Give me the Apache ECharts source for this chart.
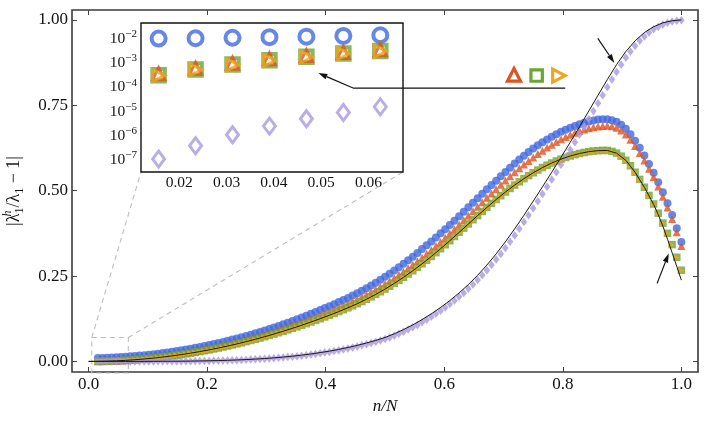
<!DOCTYPE html>
<html>
<head>
<meta charset="utf-8">
<script src="https://cdn.jsdelivr.net/npm/echarts@6.0.0/dist/echarts.min.js"></script>
<style>
html, body { margin: 0; padding: 0; background: #fff; }
#chart { width: 706px; height: 423px; }
</style>
</head>
<body>
<div id="chart"></div>
<script>
// n/N with N = 128, markers for n = 2..128
var N = 128;
var markN = [];
for (var n = 2; n <= N; n++) markN.push(n);

var blueVals = [
  .0100, .0103, .0108, .0114, .0120, .0128, .0137,
  .0148, .0158, .0170, .0183, .0197, .0211, .0227, .0243,
  .0263, .0282, .0304, .0325, .0349, .0372, .0398, .0423,
  .0451, .0479, .0509, .0540, .0572, .0604, .0638, .0673,
  .0709, .0747, .0784, .0824, .0864, .0906, .0947, .0991,
  .1037, .1086, .1134, .1184, .1235, .1287, .1340, .1393,
  .1448, .1504, .1561, .1618, .1677, .1737, .1798, .1860,
  .1927, .1997, .2069, .2145, .2224, .2306, .2390, .2478,
  .2569, .2663, .2759, .2859, .2962, .3068, .3176, .3288,
  .3399, .3513, .3630, .3750, .3872, .3996, .4122, .4249,
  .4382, .4515, .4648, .4780, .4911, .5040, .5167, .5291,
  .5422, .5550, .5674, .5794, .5910, .6022, .6130, .6234,
  .6328, .6417, .6501, .6580, .6654, .6723, .6786, .6844,
  .6896, .6944, .6987, .7025, .7056, .7082, .7090, .7091,
  .7065, .7017, .6928, .6810, .6653, .6465, .6258, .6030,
  .5783, .5525, .5248, .4950, .4633, .4285, .3898, .3500
];
var redVals = [
  .00036, .0006, .00097, .00147, .0020, .0027, .0035,
  .0046, .0057, .0069, .0082, .0096, .0110, .0127, .0143,
  .0162, .0181, .0202, .0223, .0245, .0268, .0293, .0318,
  .0346, .0373, .0403, .0432, .0464, .0495, .0529, .0563,
  .0598, .0634, .0671, .0709, .0748, .0788, .0829, .0871,
  .0914, .0958, .1003, .1049, .1097, .1144, .1194, .1243,
  .1296, .1349, .1403, .1458, .1515, .1572, .1630, .1690,
  .1752, .1817, .1884, .1955, .2029, .2106, .2185, .2268,
  .2354, .2443, .2534, .2629, .2727, .2828, .2931, .3038,
  .3149, .3263, .3380, .3500, .3622, .3746, .3872, .3999,
  .4132, .4265, .4398, .4530, .4661, .4790, .4917, .5041,
  .5171, .5298, .5420, .5539, .5654, .5765, .5871, .5974,
  .6075, .6170, .6261, .6347, .6427, .6503, .6572, .6636,
  .6695, .6749, .6791, .6827, .6858, .6882, .6896, .6903,
  .6883, .6840, .6758, .6645, .6493, .6310, .6105, .5880,
  .5645, .5400, .5120, .4820, .4510, .4170, .3780, .3380
];
var greenVals = [
  .00031, .00053, .00085, .00129, .00177, .00242, .0031,
  .0041, .0050, .0061, .0072, .0085, .0098, .0113, .0128,
  .0145, .0162, .0181, .0200, .0221, .0242, .0265, .0288,
  .0313, .0338, .0365, .0392, .0421, .0450, .0481, .0513,
  .0545, .0579, .0613, .0649, .0685, .0723, .0761, .0801,
  .0841, .0883, .0925, .0969, .1014, .1059, .1106, .1153,
  .1202, .1251, .1302, .1353, .1406, .1459, .1514, .1570,
  .1628, .1689, .1753, .1820, .1890, .1963, .2039, .2118,
  .2200, .2285, .2373, .2464, .2558, .2655, .2755, .2858,
  .2964, .3073, .3185, .3300, .3417, .3536, .3657, .3779,
  .3902, .4025, .4148, .4270, .4391, .4510, .4627, .4741,
  .4852, .4960, .5064, .5164, .5260, .5352, .5440, .5524,
  .5603, .5677, .5746, .5810, .5869, .5923, .5972, .6016,
  .6055, .6089, .6118, .6142, .6160, .6172, .6178, .6178,
  .615, .610, .601, .589, .573, .554, .533, .510,
  .486, .461, .434, .405, .375, .342, .305, .267
];
var yellowVals = [
  .00030, .00052, .00083, .00127, .00175, .00240, .0030,
  .0031, .0040, .0051, .0062, .0075, .0088, .0103, .0118,
  .0135, .0152, .0171, .0190, .0211, .0232, .0255, .0278,
  .0293, .0318, .0345, .0372, .0401, .0430, .0461, .0493,
  .0525, .0559, .0593, .0629, .0665, .0703, .0741, .0781,
  .0821, .0863, .0905, .0949, .0994, .1039, .1086, .1133,
  .1182, .1231, .1282, .1333, .1386, .1439, .1494, .1550,
  .1608, .1669, .1733, .1800, .1870, .1943, .2019, .2098,
  .2180, .2265, .2353, .2444, .2538, .2635, .2735, .2838,
  .2944, .3053, .3165, .3280, .3397, .3516, .3637, .3759,
  .3882, .4005, .4128, .4250, .4371, .4490, .4607, .4721,
  .4832, .4940, .5044, .5144, .5240, .5332, .5420, .5504,
  .5583, .5657, .5726, .5790, .5849, .5903, .5952, .5996,
  .6035, .6069, .6098, .6122, .6140, .6152, .6158, .6158,
  .614, .609, .600, .588, .572, .553, .532, .509,
  .485, .460, .433, .404, .374, .341, .304, .266
];
var purpleVals = [
  1.1e-7, 3.9e-7, 1.1e-6, 2.5e-6, 5.0e-6, 9.1e-6, 1.55e-5,
  2.0e-5, 2.49e-5, 3.8e-5, 5.6e-5, 7.95e-5, 1.1e-4, 1.49e-4, 1.97e-4,
  2.55e-4, 3.26e-4, 4.11e-4, 5.1e-4, 6.3e-4, 7.7e-4, 9.3e-4, .00111,
  .00132, .00156, .00182, .00212, .00246, .00284, .00326, .00372,
  .00423, .00479, .00540, .00607, .00681, .00761, .00848, .00942,
  .01043, .01153, .01271, .0140, .01535, .0168, .0184, .0200,
  .0218, .0237, .0258, .0279, .0302, .0326, .0352, .0379,
  .0408, .0438, .0470, .0503, .0539, .0576, .0615, .0657,
  .0700, .0753, .0809, .0868, .0931, .0998, .1069, .1144,
  .1223, .1306, .1393, .1484, .1579, .1678, .1782, .1891,
  .2005, .2125, .2251, .2383, .2522, .2668, .2821, .2981,
  .3148, .3322, .3503, .3690, .3882, .4079, .4280, .4484,
  .4691, .4900, .5111, .5324, .5539, .5756, .5975, .6196,
  .6419, .6644, .6871, .7100, .7331, .7563, .7795, .8026,
  .8254, .8476, .8689, .8889, .9073, .9239, .9387, .9517,
  .9629, .9723, .9800, .9865, .9915, .9950, .9975, .9992
];

// the two black reference curves
var greenLineN = [
  0, 2, 4, 6, 8, 10, 12, 14, 16, 18, 20, 22, 24, 26, 28, 30,
  32, 34, 36, 38, 40, 42, 44, 46, 48, 50, 52, 54, 56, 58, 60, 62,
  64, 66, 68, 70, 72, 74, 76, 78, 80, 82, 84, 86, 88, 90, 92, 94,
  96, 98, 100, 102, 104, 106, 108, 110, 112, 114, 116, 118, 120,
  122, 123, 124, 125, 126, 127, 128
];
var greenLineVals = [
  0, .0003, .0009, .0018, .0031, .0049, .0071, .0097, .0127, .0161, .0199, .0241, .0287, .0337, .0391, .0449,
  .0512, .0578, .0648, .0722, .0800, .0882, .0968, .1058, .1152, .1250, .1352, .1458, .1569, .1688, .1819, .1962,
  .2117, .2284, .2463, .2654, .2857, .3072, .3299, .3535, .3778, .4024, .4269, .4509, .4740, .4959, .5163, .5351,
  .5523, .5676, .5809, .5922, .6015, .6088, .6141, .6171, .6177, .6098, .5888, .5538, .5098,
  .4600, .4300, .3960, .3580, .3180, .2780, .2380
];
var purpleLineN = [
  0, 2, 4, 6, 8, 10, 12, 14, 16, 18, 20, 22, 24, 26, 28, 30,
  32, 34, 36, 38, 40, 42, 44, 46, 48, 50, 52, 54, 56, 58, 60, 62,
  64, 66, 68, 70, 72, 74, 76, 78, 80, 82, 84, 86, 88, 90, 92, 94,
  96, 98, 100, 102, 104, 106, 108, 110, 112, 114, 116, 118, 120, 122, 124, 126, 128
];
var purpleLineVals = [
  0, 4e-8, 5e-7, 4e-6, 1.55e-5, 3.8e-5, 7.95e-5, 1.49e-4, 2.55e-4, 4.11e-4, 6.3e-4, 9.3e-4, .00132, .00182, .00246, .00326,
  .00423, .00540, .00681, .00848, .01043, .01271, .01535, .0184, .0218, .0258, .0302, .0352, .0408, .0470, .0539, .0615,
  .0700, .0809, .0931, .1069, .1223, .1393, .1579, .1782, .2005, .2251, .2522, .2821, .3148, .3503, .3882, .4280,
  .4691, .5111, .5539, .5975, .6419, .6871, .7331, .7795, .8254, .8689, .9073, .9387, .9629, .9800, .9915, .9975, 1.0
];

var xTicks = [0, 0.2, 0.4, 0.6, 0.8, 1.0];
var yTicks = [0, 0.25, 0.5, 0.75, 1.0];
var insetXTicks = [0.02, 0.03, 0.04, 0.05, 0.06];
var insetYTicks = [1e-7, 1e-6, 1e-5, 1e-4, 1e-3, 1e-2];

var FONT = 'Liberation Serif';
var BLUE = '#4169e1', RED = '#e0521f', GREEN = '#6ba534', YELLOW = '#eaa81f', PURPLE = '#a997df';

function pairs(ns, vals) {
  return ns.map(function (k, i) { return [k / N, vals[i]]; });
}

function mainScatter(vals, symbol, size, color, rotate) {
  return {
    type: 'scatter', xAxisIndex: 0, yAxisIndex: 0,
    data: pairs(markN, vals),
    symbol: symbol, symbolSize: size, symbolRotate: rotate || 0,
    itemStyle: { color: color },
    clip: true, silent: true
  };
}
function insetScatter(vals, symbol, size, color, bw, rotate) {
  return {
    type: 'scatter', xAxisIndex: 2, yAxisIndex: 2, z: 6,
    data: pairs(markN, vals),
    symbol: symbol, symbolSize: size, symbolRotate: rotate || 0,
    itemStyle: { color: 'none', borderColor: color, borderWidth: bw },
    clip: true, silent: true
  };
}
function refLine(ns, vals) {
  return {
    type: 'line', xAxisIndex: 0, yAxisIndex: 0, z: 3,
    data: pairs(ns, vals), showSymbol: false, silent: true,
    lineStyle: { color: '#1a1a1a', width: 1 }
  };
}

function valueAxis(grid, pos, min, max, ticks, showLabel, fmt, size, tickColor, tickLen, margin) {
  return {
    type: 'value', gridIndex: grid, position: pos, min: min, max: max,
    axisLine: { show: false, onZero: false }, splitLine: { show: false },
    axisTick: { inside: true, length: tickLen, customValues: ticks, lineStyle: { color: tickColor, width: 1 } },
    axisLabel: {
      show: showLabel, customValues: ticks, formatter: fmt, margin: margin,
      fontFamily: FONT, fontSize: size, color: '#111'
    }
  };
}

var chart = echarts.init(document.getElementById('chart'));

var mainX = valueAxis(0, 'bottom', -0.028, 1.028, xTicks, true, function (v) { return v.toFixed(1); }, 17, '#444', 5, 4);
mainX.name = 'n/N';
mainX.nameLocation = 'middle';
mainX.nameGap = 21;
mainX.nameTextStyle = { fontFamily: FONT, fontStyle: 'italic', fontSize: 17, color: '#111' };

var mainY = valueAxis(0, 'left', -0.031, 1.029, yTicks, true, function (v) { return v.toFixed(2); }, 17, '#444', 5, 4);
mainY.name = '{t||λ}{p|h}{s|1}{t|/λ}{s|1}{t| \u2212 1|}';
mainY.nameLocation = 'middle';
mainY.nameRotate = 90;
mainY.nameGap = 46;
mainY.nameTextStyle = {
  fontFamily: FONT, fontSize: 18, color: '#111',
  rich: {
    t: { fontFamily: FONT, fontSize: 18, color: '#111', lineHeight: 24 },
    p: { fontFamily: FONT, fontStyle: 'italic', fontSize: 12, color: '#111', width: 0, verticalAlign: 'top', lineHeight: 12 },
    s: { fontFamily: FONT, fontSize: 12, color: '#111', verticalAlign: 'bottom', lineHeight: 10 }
  }
};

var insetY = {
  type: 'log', logBase: 10, gridIndex: 1, position: 'left', min: 3.24e-8, max: 0.0437,
  axisLine: { show: false, onZero: false }, splitLine: { show: false },
  axisTick: { inside: true, length: 4, customValues: insetYTicks, lineStyle: { color: '#111' } },
  axisLabel: {
    customValues: insetYTicks, margin: 4,
    formatter: function (v) {
      var e = Math.round(Math.log(v) / Math.LN10);
      return '{b|10}{s|\u2212' + Math.abs(e) + '}';
    },
    rich: {
      b: { fontFamily: FONT, fontSize: 15.5, color: '#111', lineHeight: 20 },
      s: { fontFamily: FONT, fontSize: 11, color: '#111', verticalAlign: 'top', lineHeight: 11 }
    }
  }
};
var insetYRight = JSON.parse(JSON.stringify(insetY));
insetYRight.position = 'right';
insetYRight.axisLabel = { show: false };

var option = {
  animation: false,
  backgroundColor: '#fff',
  grid: [
    { left: 72, right: 8, top: 10, bottom: 51, show: true, borderColor: '#3b3b3b', borderWidth: 1.6, outerBoundsMode: 'none', containLabel: false },
    { left: 141, top: 23, width: 262, height: 149, show: true, borderColor: '#111', borderWidth: 1.4, backgroundColor: '#fff', z: 5, outerBoundsMode: 'none', containLabel: false }
  ],
  xAxis: [
    mainX,
    valueAxis(0, 'top', -0.028, 1.028, xTicks, false, null, 17, '#444', 5, 3),
    valueAxis(1, 'bottom', 0.0119, 0.0673, insetXTicks, true, function (v) { return v.toFixed(2); }, 15.5, '#111', 4, 3),
    valueAxis(1, 'top', 0.0119, 0.0673, insetXTicks, false, null, 15, '#111', 4, 2)
  ],
  yAxis: [
    mainY,
    valueAxis(0, 'right', -0.031, 1.029, yTicks, false, null, 17, '#444', 5, 4),
    insetY,
    insetYRight
  ],
  series: [
    mainScatter(blueVals, 'circle', 8, BLUE),
    mainScatter(redVals, 'triangle', 8, RED),
    mainScatter(greenVals, 'rect', 7.5, GREEN),
    mainScatter(yellowVals, 'triangle', 6.5, YELLOW, -90),
    mainScatter(purpleVals, 'diamond', [6.5, 8.5], PURPLE),
    refLine(greenLineN, greenLineVals),
    refLine(purpleLineN, purpleLineVals),
    insetScatter(blueVals, 'circle', 14, BLUE, 4),
    insetScatter(purpleVals, 'diamond', [12, 16], PURPLE, 3),
    insetScatter(greenVals, 'rect', 12.5, GREEN, 4),
    insetScatter(redVals, 'triangle', 12, RED, 3),
    insetScatter(yellowVals, 'triangle', 12, YELLOW, 3, -90)
  ]
};
chart.setOption(option);

// annotations: zoom box, connectors, arrows and the marker key
function P(x, y) { return chart.convertToPixel({ xAxisIndex: 0, yAxisIndex: 0 }, [x, y]); }
function Q(x, y) { return chart.convertToPixel({ xAxisIndex: 2, yAxisIndex: 2 }, [x, y]); }

function arrow(pts) {
  var k = pts.length, tip = pts[k - 1], prev = pts[k - 2];
  var dx = tip[0] - prev[0], dy = tip[1] - prev[1], L = Math.sqrt(dx * dx + dy * dy);
  var ux = dx / L, uy = dy / L, len = 9, hw = 2.8;
  var base = [tip[0] - ux * len, tip[1] - uy * len];
  return [
    { type: 'polyline', z: 20, shape: { points: pts.slice(0, k - 1).concat([base]) }, style: { stroke: '#111', lineWidth: 1.2, fill: null } },
    { type: 'polygon', z: 20, shape: { points: [tip, [base[0] - uy * hw, base[1] + ux * hw], [base[0] + uy * hw, base[1] - ux * hw]] }, style: { fill: '#111' } }
  ];
}

var dash = { stroke: '#bdbdbd', lineWidth: 1.1, lineDash: [5, 4], fill: null };
var b0 = P(0.0054, 0.070), b1 = P(0.067, 0.070), b2 = P(0.067, -0.034), b3 = P(0.0054, -0.034);
var i0 = Q(0.0119, 3.24e-8), i1 = Q(0.0673, 3.24e-8);

var g = [
  { type: 'polygon', z: 1, shape: { points: [b0, b1, b2, b3] }, style: dash },
  { type: 'polyline', z: 1, shape: { points: [b0, i0] }, style: dash },
  { type: 'polyline', z: 1, shape: { points: [b1, i1] }, style: dash }
];
g = g.concat(arrow([P(0.804, 0.80), P(0.447, 0.80), Q(0.0494, 3.8e-4)]));
g = g.concat(arrow([P(0.859, 0.946), P(0.887, 0.874)]));
g = g.concat(arrow([P(0.959, 0.2285), P(0.9786, 0.316)]));

var kr = P(0.7176, 0.837), kg = P(0.7558, 0.837), ky = P(0.7921, 0.837);
g.push({ type: 'polygon', z: 20, shape: { points: [[kr[0], kr[1] - 7], [kr[0] - 6.5, kr[1] + 5.5], [kr[0] + 6.5, kr[1] + 5.5]] },
  style: { fill: '#fff', stroke: RED, lineWidth: 3.2, lineJoin: 'miter' } });
g.push({ type: 'rect', z: 20, shape: { x: kg[0] - 5.7, y: kg[1] - 5.7, width: 11.4, height: 11.4 },
  style: { fill: '#fff', stroke: GREEN, lineWidth: 3.2 } });
g.push({ type: 'polygon', z: 20, shape: { points: [[ky[0] + 7, ky[1]], [ky[0] - 5.5, ky[1] - 6.5], [ky[0] - 5.5, ky[1] + 6.5]] },
  style: { fill: '#fff', stroke: YELLOW, lineWidth: 3.2, lineJoin: 'miter' } });

chart.setOption({ graphic: { elements: g } });
</script>
</body>
</html>
